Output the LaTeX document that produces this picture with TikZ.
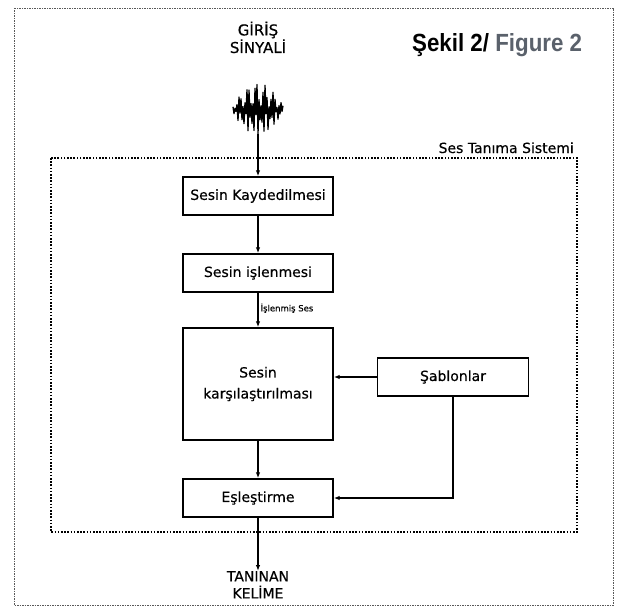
\documentclass[tikz,border=0pt]{standalone}
\usepackage{fontspec}
\setmainfont{DejaVu Sans}[FakeBold=0.4]
\newfontfamily\titlefont{Liberation Sans}
\usetikzlibrary{arrows.meta}
\definecolor{figgray}{HTML}{5A616B}
\tikzset{
  stepbox/.style={draw=black, line width=1.4pt, minimum width=150pt, minimum height=38pt, inner sep=0pt, font=\fontsize{14}{16}\selectfont, align=center},
  arr/.style={line width=1.2pt, -{Latex[length=6pt,width=4.5pt]}},
  lbl/.style={font=\fontsize{14}{17}\selectfont, align=center, inner sep=0pt},
}
\begin{document}
\begin{tikzpicture}[x=1pt,y=-1pt]
\useasboundingbox (0,0) rectangle (620,607);
\fill[white] (0,0) rectangle (620,607);
% outer frame
\draw[gray!70!black, line width=0.7pt, dash pattern=on 1.5pt off 1pt] (14,8) rectangle (613,605);
% figure title
\node[anchor=base west, inner sep=0pt, font=\titlefont\bfseries\fontsize{23}{26}\selectfont] (title) at (412,52) {\scalebox{0.97}[1.08]{Şekil 2/ \textcolor{figgray}{Figure 2}}};
% input label
\node[lbl, font=\fontsize{15}{16}\selectfont, anchor=base] (inlbl) at (258,53) {GİRİŞ\\SİNYALİ};
% waveform
\draw[line width=1.3pt, line join=round] plot[samples at={0,...,50}]
  ({233+\x*1.0}, {109 + (mod(\x,2)==0 ? -(4+22*sin(180*\x/50))*(0.55+0.45*sin(\x*137.5)) : (5+21*sin(180*\x/50))*(0.6+0.4*cos(\x*71)))});
\coordinate (wb) at (258,134);
% system box
\draw[line width=1.3pt, dash pattern=on 1.6pt off 1.6pt] (51,158) rectangle (577,532);
\node[lbl, anchor=base east] (syslbl) at (574,153) {Ses Tanıma Sistemi};
% boxes
\node[stepbox] (k1) at (258,196) {Sesin Kaydedilmesi};
\node[stepbox] (k2) at (258,273) {Sesin işlenmesi};
\node[stepbox, minimum height=112pt, font=\fontsize{14}{21}\selectfont] (k3) at (258,384) {Sesin\\karşılaştırılması};
\node[stepbox, minimum width=151pt] (sab) at (453,377) {Şablonlar};
\node[stepbox] (es) at (258,498) {Eşleştirme};
\node[lbl, anchor=north] (out) at (258,571) {TANINAN\\KELİME};
% connectors
\draw[arr] (wb) -- (k1.north);
\draw[arr] (k1) -- (k2);
\draw[arr] (k2) -- node[pos=0.45, anchor=west, xshift=2pt, inner sep=0pt, font=\fontsize{8.5}{9}\selectfont] (islbl) {İşlenmiş Ses} (k3);
\draw[arr] (sab.west) -- (sab.west -| k3.east);
\draw[arr] (sab.south) |- (es.east);
\draw[arr] (k3) -- (es);
\draw[arr] (es) -- (out);
\end{tikzpicture}
\end{document}
